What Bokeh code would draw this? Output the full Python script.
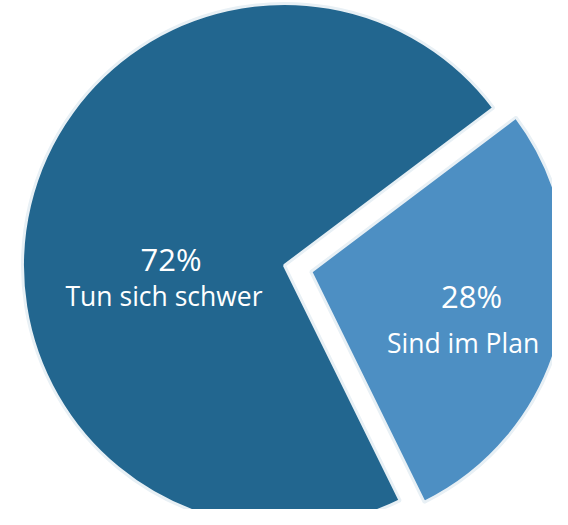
import math
from bokeh.plotting import figure
from bokeh.models import ColumnDataSource
from bokeh.core.properties import value
from bokeh.embed import file_html
from bokeh.resources import INLINE

# ---- data ----
categories = ["Tun sich schwer", "Sind im Plan"]
shares = [72, 28]
pct_labels = ["72%", "28%"]
colors = ["#22668f", "#4d8fc3"]

# ---- layout / style ----
W, H = 552, 509
cx, cy = 284, 244          # pie centre in data (pixel) units
radii = [262, 257]
explode = [0, 27]
start_deg = 37.0
# text offsets (dx, dy) from each slice centre
pct_off = [(-113.5, 7.0), (160.8, -24.7)]
cat_off = [(-120.5, -30.0), (152.3, -71.7)]

total = float(sum(shares))
starts, ends, xs, ys = [], [], [], []
a = math.radians(start_deg)
for s, ex in zip(shares, explode):
    span = 2 * math.pi * s / total
    mid = a + span / 2
    starts.append(a)
    ends.append(a + span)
    xs.append(cx + ex * math.cos(mid))
    ys.append(cy + ex * math.sin(mid))
    a += span

src = ColumnDataSource(dict(x=xs, y=ys, r=radii, start=starts, end=ends,
                            color=colors, cat=categories, pct=pct_labels))

p = figure(width=W, height=H, x_range=(0, W), y_range=(0, H),
           output_backend="svg", toolbar_location=None, min_border=0)
p.axis.visible = False
p.grid.visible = False
p.outline_line_color = None
p.background_fill_color = "white"
p.border_fill_color = "white"

p.wedge(x="x", y="y", radius="r", start_angle="start", end_angle="end",
        fill_color="color", line_color="#e8f0f5", line_width=3, source=src)

lsrc = ColumnDataSource(dict(
    px=[x0 + o[0] for x0, o in zip(xs, pct_off)],
    py=[y0 + o[1] for y0, o in zip(ys, pct_off)],
    lx=[x0 + o[0] for x0, o in zip(xs, cat_off)],
    ly=[y0 + o[1] for y0, o in zip(ys, cat_off)],
    pct=pct_labels, cat=categories))
p.text(x="px", y="py", text="pct", source=lsrc, text_color="white",
       text_font=value("Open Sans"), text_font_size="31px",
       text_align="center", text_baseline="alphabetic")
p.text(x="lx", y="ly", text="cat", source=lsrc, text_color="white",
       text_font=value("Open Sans"), text_font_size="26.5px",
       text_align="center", text_baseline="alphabetic")

open("out.html", "w").write(file_html(p, INLINE))
